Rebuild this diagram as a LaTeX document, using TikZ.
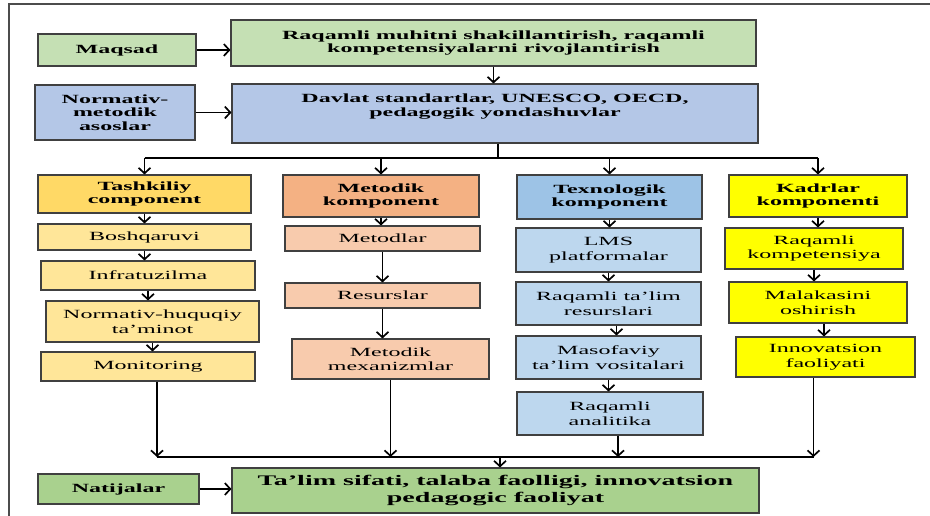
\documentclass[tikz,border=0pt]{standalone}
\usepackage{fontspec}
\setmainfont{Liberation Serif}[FakeStretch=1.92]
\usetikzlibrary{arrows.meta}

\definecolor{goalgreen}{HTML}{C5E0B4}
\definecolor{resgreen}{HTML}{A9D18E}
\definecolor{baseblue}{HTML}{B4C7E7}
\definecolor{tashhead}{HTML}{FFD966}
\definecolor{tashsub}{HTML}{FFE699}
\definecolor{methead}{HTML}{F4B183}
\definecolor{metsub}{HTML}{F8CBAD}
\definecolor{texhead}{HTML}{9DC3E6}
\definecolor{texsub}{HTML}{BDD7EE}
\definecolor{kadr}{HTML}{FFFF00}

\begin{document}
\begin{tikzpicture}[x=1pt,y=-1pt,line width=1.7pt,
            every node/.style={draw=black!75,line width=1.1pt,align=center,inner sep=1pt,
                font=\fontsize{12.5}{14.5}\selectfont},
            box/.style 2 args={minimum width=#1,minimum height=#2},
            head/.style={font=\fontsize{12.5}{13.5}\selectfont\bfseries},
            >={Straight Barb[length=5.5pt,width=12pt]}]
                \useasboundingbox (0,0) rectangle (930,516);
                \draw[black!70,line width=1.5pt] (9,516) -- (9,4) -- (930,4);

                \node(maqsad)[box={158}{32},fill=goalgreen,head] at (117,50) {Maqsad};
                \node(goal)[box={525}{46},fill=goalgreen,head] at (493.5,43)
                    {Raqamli muhitni shakillantirish, raqamli\\kompetensiyalarni rivojlantirish};
                \node(normativ)[box={160}{55},fill=baseblue,head] at (115,112.5) {Normativ-\\metodik\\asoslar};
                \node(davlat)[box={526}{59},fill=baseblue,head] at (495,113.5)
                    {Davlat standartlar, UNESCO, OECD,\\pedagogik yondashuvlar\\[3pt]~};

                % tashkiliy
                \node(tash)[box={213}{38},fill=tashhead,head] at (144.5,194) {Tashkiliy\\component};
                \node(bosh)[box={213}{26},fill=tashsub] at (144.5,237) {Boshqaruvi};
                \node(infra)[box={214}{29},fill=tashsub] at (148,275.5) {Infratuzilma};
                \node(huquq)[box={213}{41},fill=tashsub] at (152.5,321.5) {Normativ-huquqiy\\ta’minot};
                \node(monitoring)[box={214}{29},fill=tashsub] at (148,366.5) {Monitoring};

                % metodik
                \node(metodik)[box={196}{42},fill=methead,head] at (381,196) {Metodik\\komponent};
                \node(metodlar)[box={195}{25},fill=metsub] at (382.5,238.5) {Metodlar};
                \node(resurslar)[box={195}{25},fill=metsub] at (382.5,295.5) {Resurslar};
                \node(mexanizm)[box={197}{40},fill=metsub] at (390.5,359) {Metodik\\mexanizmlar};

                % texnologik
                \node(texno)[box={185}{44},fill=texhead,head] at (609.5,197) {Texnologik\\komponent};
                \node(lms)[box={185}{44},fill=texsub] at (608.5,250) {LMS\\platformalar};
                \node(resurslari)[box={185}{43},fill=texsub] at (608.5,303.5) {Raqamli ta’lim\\resurslari};
                \node(masofaviy)[box={185}{43},fill=texsub] at (608.5,357.5) {Masofaviy\\ta’lim vositalari};
                \node(analitika)[box={186}{43},fill=texsub] at (610,413.5) {Raqamli\\analitika};

                % kadrlar
                \node(kadrlar)[box={178}{42},fill=kadr,head] at (818,196) {Kadrlar\\komponenti};
                \node(kompetensiya)[box={178}{41},fill=kadr] at (814,248.5) {Raqamli\\kompetensiya};
                \node(malaka)[box={178}{41},fill=kadr] at (818,302.5) {Malakasini\\oshirish};
                \node(innov)[box={179}{40},fill=kadr] at (825.5,357) {Innovatsion\\faoliyati};

                \node(natijalar)[box={161}{30},fill=resgreen,head] at (118.5,489) {Natijalar};
                \node(result)[box={527}{45},fill=resgreen,
                    font=\fontsize{14.6}{17}\selectfont\bfseries] at (495.5,490.5)
                    {Ta’lim sifati, talaba faolligi, innovatsion\\pedagogic faoliyat};

                \coordinate(tbus) at (498,158);
                \coordinate(bbus) at (500,457);
                \coordinate(mon) at ([xshift=9pt]monitoring.south);
                \coordinate(ana) at ([xshift=8pt]analitika.south);
                \coordinate(inn) at ([xshift=-12pt]innov.south);

            \begin{scope}[->]
                \draw (maqsad.east) -- (maqsad.east -| goal.west);
                \draw (goal.south) -- (goal.south |- davlat.north);
                \draw (normativ.east) -- (normativ.east -| davlat.west);
                \draw (natijalar.east) -- (natijalar.east -| result.west);

                \draw[-] (davlat.south -| tbus) -- (tbus);
                \draw[-] (tash |- tbus) -- (kadrlar |- tbus);
                \foreach \n in {tash,metodik,texno,kadrlar}
                    \draw (\n |- tbus) -- (\n.north);

                \draw (tash) -- (bosh);
                \draw (bosh.south) -- (bosh.south |- infra.north);
                \draw (infra.south) -- (infra.south |- huquq.north);
                \draw (huquq.south) -- (huquq.south |- monitoring.north);

                \draw (metodik.south) -- (metodik.south |- metodlar.north);
                \draw (metodlar) -- (resurslar);
                \draw (resurslar.south) -- (resurslar.south |- mexanizm.north);

                \draw (texno.south) -- (texno.south |- lms.north);
                \draw (lms) -- (resurslari);
                \draw ([xshift=8pt]resurslari.south) -- ([xshift=8pt]resurslari.south |- masofaviy.north);
                \draw (masofaviy.south) -- (masofaviy.south |- analitika.north);

                \draw (kadrlar.south) -- (kadrlar.south |- kompetensiya.north);
                \draw (kompetensiya.south) -- (kompetensiya.south |- malaka.north);
                \draw ([xshift=6pt]malaka.south) -- ([xshift=6pt]malaka.south |- innov.north);

                \draw (mon) -- (mon |- bbus);
                \draw (mexanizm.south) -- (mexanizm.south |- bbus);
                \draw (ana) -- (ana |- bbus);
                \draw (inn) -- (inn |- bbus);
                \draw[-] (mon |- bbus) -- (inn |- bbus);
                \draw (bbus) -- (bbus |- result.north);
            \end{scope}
        \end{tikzpicture}
\end{document}
